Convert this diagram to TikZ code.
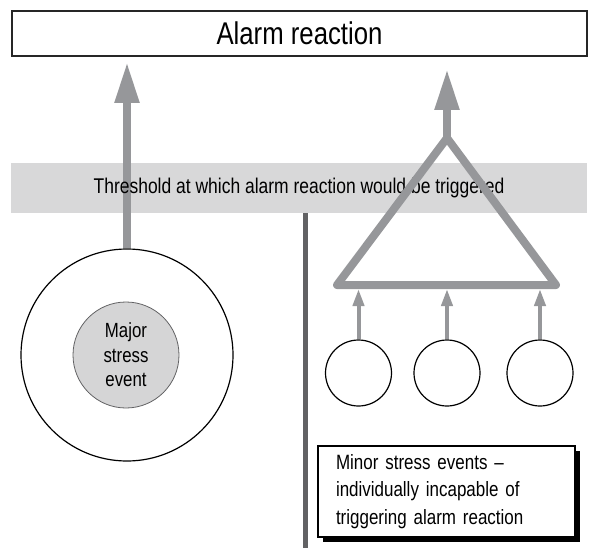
\documentclass[tikz,border=0pt]{standalone}
\usepackage{fontspec}
\setmainfont{Liberation Sans}[FakeStretch=0.82]
\usetikzlibrary{arrows.meta, positioning, shadows}
\definecolor{arrowgray}{RGB}{150,151,154}
\definecolor{bandgray}{RGB}{216,216,217}
\definecolor{linegray}{RGB}{98,98,100}
\definecolor{eventgray}{RGB}{213,213,214}
\tikzset{
    titlebox/.style={
        rectangle, draw=black!85, line width=2.5pt,
        minimum width=575pt, minimum height=45pt,
        font=\fontsize{31.4}{37}\selectfont
    },
    band/.style={
        rectangle, fill=bandgray,
        minimum width=576pt, minimum height=50pt
    },
    bandtext/.style={font=\fontsize{21.3}{25}\selectfont},
    ring/.style={circle, draw=black, line width=1.2pt, minimum size=212pt, inner sep=0pt},
    core/.style={
        circle, draw=linegray, line width=0.8pt, fill=eventgray,
        minimum size=106pt, inner sep=0pt, align=center,
        font=\fontsize{20.5}{24.5}\selectfont
    },
    event/.style={circle, draw=black, line width=1.2pt, minimum size=66pt, inner sep=0pt},
    note/.style={
        rectangle, draw=black, line width=1.2pt, fill=white,
        text width=221pt, inner xsep=18pt, minimum height=91pt, align=left,
        font=\fontsize{20.7}{27.5}\selectfont,
        drop shadow={shadow xshift=5pt, shadow yshift=-5pt, fill=black, opacity=1}
    },
    bigarrow/.style={-{Triangle[length=41pt,width=23pt]}, draw=arrowgray, line width=8pt},
    smallarrow/.style={-{Triangle[length=17pt,width=11pt]}, draw=arrowgray, line width=4pt},
    fan/.style={draw=arrowgray, line width=8pt, line join=round},
    divider/.style={draw=linegray, line width=5.5pt}
}

\begin{document}
\begin{tikzpicture}[x=1pt, y=-1pt]
\useasboundingbox (0,0) rectangle (590,557);

% ── Top: alarm reaction and threshold band ───────────────────────────────────
\node[titlebox] (alarm) at (299.5,33.7) {Alarm reaction};
\node[band] (threshold) at (299,188) {};

% ── Left: major stress event ─────────────────────────────────────────────────
\node[ring] (majorring) at (127,355) {};
\node[core] (major) at (126,355) {Major\\stress\\event};
\draw[bigarrow, shorten >=4.5pt] (majorring.north) -- (majorring.north |- alarm.south);

\node[bandtext] (thresholdtext) at (threshold) {Threshold at which alarm reaction would be triggered};

% ── Right: minor stress events ───────────────────────────────────────────────
\coordinate (apex)  at (447,138);
\coordinate (baseL) at (337,285);
\coordinate (baseR) at (556,285);
\draw[fan] (apex) -- (baseL) -- (baseR) -- cycle;
\draw[bigarrow, shorten >=11.5pt] (apex) -- (apex |- alarm.south);

\node[event] (minorA) at (358.5,373) {};
\node[event] (minorB) at (447,373) {};
\node[event] (minorC) at (540,373) {};

\draw[smallarrow, shorten >=4pt] (minorA.north) -- (minorA.north |- baseL);
\draw[smallarrow, shorten >=4pt] (minorB.north) -- (minorB.north |- baseL);
\draw[smallarrow, shorten >=4pt] (minorC.north) -- (minorC.north |- baseL);

% ── Divider and note ─────────────────────────────────────────────────────────
\coordinate (divbot) at (305.5,548);
\draw[divider] (threshold.south -| divbot) -- (divbot);

\node[note] (minornote) at (446.5,491.5)
    {Minor stress events --\\individually incapable of\\triggering alarm reaction};

\end{tikzpicture}
\end{document}
